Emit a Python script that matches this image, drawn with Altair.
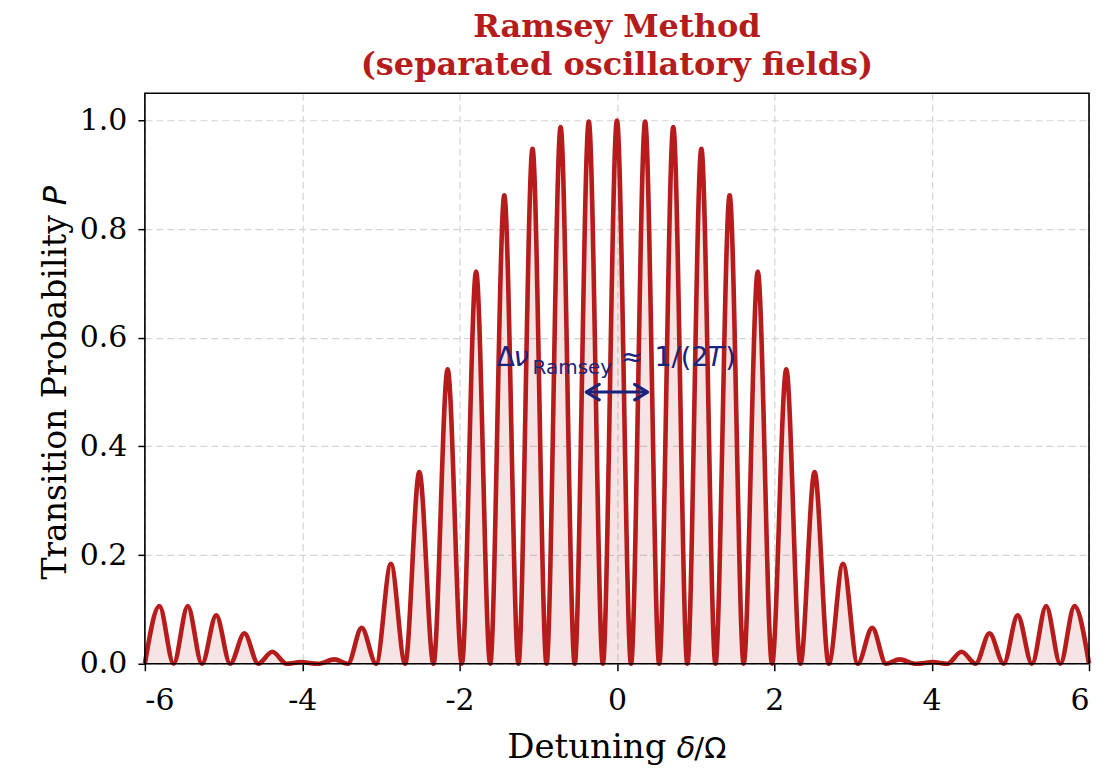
import altair as alt
import pandas as pd

# ---- data (curve is mirror-symmetric about 0) ----
peak_x = [0.0, 0.358, 0.716, 1.073, 1.432, 1.790, 2.152, 2.512, 2.873,
          3.245, 3.590, 4.020, 4.380, 4.735, 5.093, 5.455, 5.815]
peak_p = [1.000, 0.998, 0.988, 0.948, 0.862, 0.722, 0.542, 0.353, 0.184,
          0.066, 0.008, 0.003, 0.022, 0.056, 0.089, 0.106, 0.106]
trough_x = [0.179, 0.537, 0.895, 1.252, 1.611, 1.971, 2.332, 2.692, 3.060,
            3.420, 3.800, 4.200, 4.560, 4.915, 5.275, 5.635, 6.000]
trough_p = [0.0] * 17

x_ticks = [-6, -4, -2, 0, 2, 4, 6]
y_ticks = [0.0, 0.2, 0.4, 0.6, 0.8, 1.0]
arrow_x = [-0.39, 0.39]
arrow_y = 0.5

rows = []
for xv, pv in zip(peak_x, peak_p):
    rows.append({"x": xv, "p": pv})
    if xv != 0:
        rows.append({"x": -xv, "p": pv})
for xv, pv in zip(trough_x, trough_p):
    rows.append({"x": xv, "p": pv})
    rows.append({"x": -xv, "p": pv})
df = pd.DataFrame(rows).sort_values("x").reset_index(drop=True)

RED = "#b71c1c"
NAVY = "#1a237e"
SERIF = "DejaVu Serif"
SANS = "DejaVu Sans"
W, H = 945, 571
OX, OY = 145, 93  # page position of plot area

xs = alt.Scale(domain=[-6, 6], nice=False, zero=False)
ys = alt.Scale(domain=[0, 1.05], nice=False)

base = alt.Chart(df)
xenc = alt.X("x:Q", scale=xs, axis=alt.Axis(values=x_ticks, title=None,
             labelExpr="toString(datum.value)", labelPadding=15))
yenc = alt.Y("p:Q", scale=ys, axis=alt.Axis(values=y_ticks, title=None, format=".1f",
             labelPadding=11))

area = base.mark_area(interpolate="monotone", color=RED, opacity=0.12).encode(x=xenc, y=yenc)
line = base.mark_line(interpolate="monotone", color=RED, strokeWidth=4.6).encode(x="x:Q", y="p:Q")

adf = pd.DataFrame({"x": [arrow_x[0]], "x2": [arrow_x[1]], "y": [arrow_y]})
shaft = alt.Chart(adf).mark_rule(color=NAVY, strokeWidth=3).encode(
    x=alt.X("x:Q", scale=xs), x2="x2:Q", y=alt.Y("y:Q", scale=ys))
hdf = pd.DataFrame({"x": arrow_x, "y": [arrow_y, arrow_y], "side": ["l", "r"]})
head_l = alt.Chart(hdf[hdf.side == "l"]).mark_point(
    shape="M1.1,-0.65L0,0L1.1,0.65", filled=False, stroke=NAVY, strokeWidth=3.2,
    size=560, strokeCap="round", strokeJoin="round", opacity=1).encode(
    x=alt.X("x:Q", scale=xs), y=alt.Y("y:Q", scale=ys))
head_r = alt.Chart(hdf[hdf.side == "r"]).mark_point(
    shape="M-1.1,-0.65L0,0L-1.1,0.65", filled=False, stroke=NAVY, strokeWidth=3.2,
    size=560, strokeCap="round", strokeJoin="round", opacity=1).encode(
    x=alt.X("x:Q", scale=xs), y=alt.Y("y:Q", scale=ys))

frame = alt.Chart(pd.DataFrame({"a": [0]})).mark_rect(
    fill=None, stroke="black", strokeWidth=1.6).encode(
    x=alt.value(0), x2=alt.value(W), y=alt.value(0), y2=alt.value(H))


def label(text, px, py, size, font=SANS, style="normal", color="black",
          align="left", angle=0, weight="normal"):
    kw = dict(text=text, font=font, fontSize=size, fontStyle=style, color=color,
              align=align, baseline="alphabetic", fontWeight=weight)
    if angle:
        kw["angle"] = angle
    return alt.Chart(pd.DataFrame({"a": [0]})).mark_text(**kw).encode(
        x=alt.value(px - OX), y=alt.value(py - OY))


texts = [
    # annotation
    label("Δ", 497, 366, 27, color=NAVY),
    label("ν", 514, 366, 27, style="italic", color=NAVY),
    label("Ramsey", 533, 374, 20, color=NAVY),
    label("≈", 621, 366, 27, color=NAVY),
    label("1/(2", 655, 366, 27, color=NAVY),
    label("T", 708, 366, 27, style="italic", color=NAVY),
    label(")", 726, 366, 27, color=NAVY),
    # x title
    label("Detuning", 667, 758, 34, font=SERIF, align="right"),
    label("δ", 677, 758, 31, style="italic"),
    label("/Ω", 695, 758, 29),
    # y title
    label("Transition Probability", 66, 215, 33, font=SERIF, align="right", angle=270),
    label("P", 66, 205, 32, style="italic", angle=270),
]

chart = alt.layer(area, line, shaft, head_l, head_r, frame, *texts).properties(
    width=W, height=H,
    title=alt.TitleParams(
        text=["Ramsey Method", "(separated oscillatory fields)"],
        font=SERIF, fontSize=32, fontWeight="bold", color=RED,
        lineHeight=39, anchor="middle", offset=10),
    autosize=alt.AutoSizeParams(type="none"),
    padding={"left": OX - 8, "top": OY - 8, "right": 12, "bottom": 104},
).configure_view(stroke=None).configure_axis(
    domain=False, grid=True, gridColor="#d4d4d4", gridDash=[7, 4], gridWidth=1.2,
    tickColor="black", tickWidth=1.5, tickSize=7,
    labelFont=SERIF, labelFontSize=30, labelColor="black",
)

chart.save("out.html", embed_options={"renderer": "svg", "actions": False})
